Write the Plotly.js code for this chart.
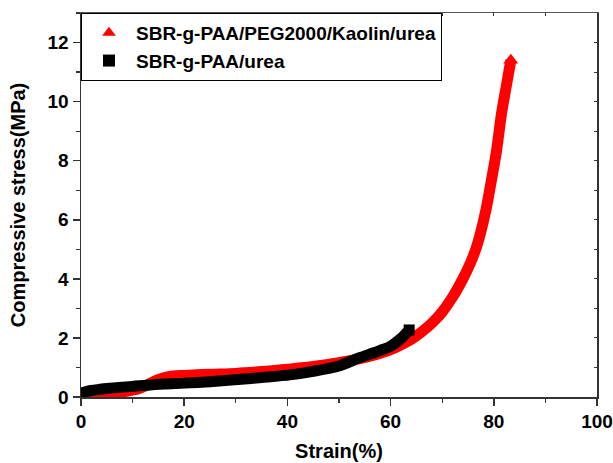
<!DOCTYPE html>
<html>
<head>
<meta charset="utf-8">
<script src="https://cdn.plot.ly/plotly-3.0.1.min.js"></script>
<style>html,body{margin:0;padding:0;background:#fff}#chart{width:613px;height:463px}</style>
</head>
<body>
<div id="chart"></div>
<script>
// Series names
var seriesNames = ["SBR-g-PAA/PEG2000/Kaolin/urea", "SBR-g-PAA/urea"];

// SBR-g-PAA/PEG2000/Kaolin/urea (red triangles)
var strainA = [0, 3, 6, 9, 11, 12.5, 14, 15.5, 17, 20, 25, 30, 35, 40, 45, 50, 54, 58, 61, 64, 66, 68, 70, 72, 74, 75.5, 76.5, 77.5, 78.5, 79.5, 80.5, 81.5, 82.5, 83.3];
var stressA = [0.02, 0.06, 0.12, 0.2, 0.27, 0.38, 0.52, 0.62, 0.69, 0.73, 0.77, 0.8, 0.86, 0.94, 1.03, 1.16, 1.3, 1.48, 1.68, 1.95, 2.2, 2.5, 2.88, 3.38, 4.0, 4.55, 5.0, 5.6, 6.35, 7.3, 8.3, 9.6, 10.6, 11.4];

// SBR-g-PAA/urea (black squares)
var strainB = [0, 2, 5, 10, 16, 20, 25, 31, 35, 40.5, 45, 50, 54, 56.6, 58, 60, 62, 63.6];
var stressB = [0.13, 0.22, 0.29, 0.36, 0.44, 0.47, 0.52, 0.6, 0.66, 0.75, 0.87, 1.05, 1.33, 1.49, 1.58, 1.72, 1.98, 2.27];

// Axis ticks
var xTicks = [0, 20, 40, 60, 80, 100];
var yTicks = [0, 2, 4, 6, 8, 10, 12];

var FONT = "Liberation Sans, Arial, sans-serif";

function ends(arr) { return [arr[0], arr[arr.length - 1]]; }

var traces = [
  {x: strainA, y: stressA, mode: "lines", line: {color: "#ff0000", width: 11, shape: "spline", smoothing: 0.8},
   showlegend: false, hoverinfo: "skip"},
  {x: ends(strainA), y: ends(stressA), mode: "markers", name: seriesNames[0],
   marker: {symbol: "triangle-up", size: 13, color: "#ff0000"}},
  {x: strainB, y: stressB, mode: "lines", line: {color: "#000000", width: 11, shape: "spline", smoothing: 0.8},
   showlegend: false, hoverinfo: "skip"},
  {x: ends(strainB), y: ends(stressB), mode: "markers", name: seriesNames[1],
   marker: {symbol: "square", size: 11, color: "#000000"}},
  // invisible trace carrying the mirrored (top/right) inner-tick axes
  {x: strainB, y: stressB, xaxis: "x2", yaxis: "y2", mode: "markers", opacity: 0, showlegend: false, hoverinfo: "skip", marker: {size: 1}}
];

var layout = {
  width: 613, height: 463,
  margin: {l: 81, r: 16, t: 13, b: 66},
  paper_bgcolor: "#ffffff", plot_bgcolor: "#ffffff",
  font: {family: FONT, color: "#000", size: 18},
  showlegend: true,
  legend: {x: 0, y: 1, xanchor: "left", yanchor: "top", bgcolor: "#ffffff",
    bordercolor: "#000", borderwidth: 1, font: {family: FONT, size: 19, weight: "bold", color: "#000"},
    itemwidth: 44, itemsizing: "constant", tracegroupgap: 0},
  xaxis: {range: [0, 100], tickvals: xTicks, ticks: "outside", ticklen: 7, tickwidth: 1.5, tickcolor: "#333",
    showline: true, linecolor: "#333", linewidth: 1.5, showgrid: false, zeroline: false,
    minor: {dtick: 10, ticks: "outside", ticklen: 4, tickwidth: 1.2, tickcolor: "#333"},
    tickfont: {family: FONT, size: 19, weight: "bold"},
    title: {text: "Strain(%)", font: {family: FONT, size: 20, weight: "bold"}, standoff: 12}},
  yaxis: {range: [0, 13], tickvals: yTicks, ticks: "outside", ticklen: 7, tickwidth: 1.5, tickcolor: "#333",
    showline: true, linecolor: "#333", linewidth: 1.5, showgrid: false, zeroline: false,
    minor: {dtick: 1, ticks: "outside", ticklen: 4, tickwidth: 1.2, tickcolor: "#333"},
    tickfont: {family: FONT, size: 19, weight: "bold"},
    title: {text: "Compressive stress(MPa)", font: {family: FONT, size: 20, weight: "bold"}, standoff: 16}},
  xaxis2: {overlaying: "x", side: "top", anchor: "y", range: [0, 100], dtick: 10, ticks: "inside", ticklen: 3,
    tickcolor: "#333", showticklabels: false, showline: true, linecolor: "#555", linewidth: 1, showgrid: false, zeroline: false},
  yaxis2: {overlaying: "y", side: "right", anchor: "x", range: [0, 13], dtick: 1, ticks: "inside", ticklen: 3,
    tickcolor: "#333", showticklabels: false, showline: true, linecolor: "#333", linewidth: 1.5, showgrid: false, zeroline: false}
};

Plotly.newPlot("chart", traces, layout, {displayModeBar: false, staticPlot: true});
</script>
</body>
</html>
